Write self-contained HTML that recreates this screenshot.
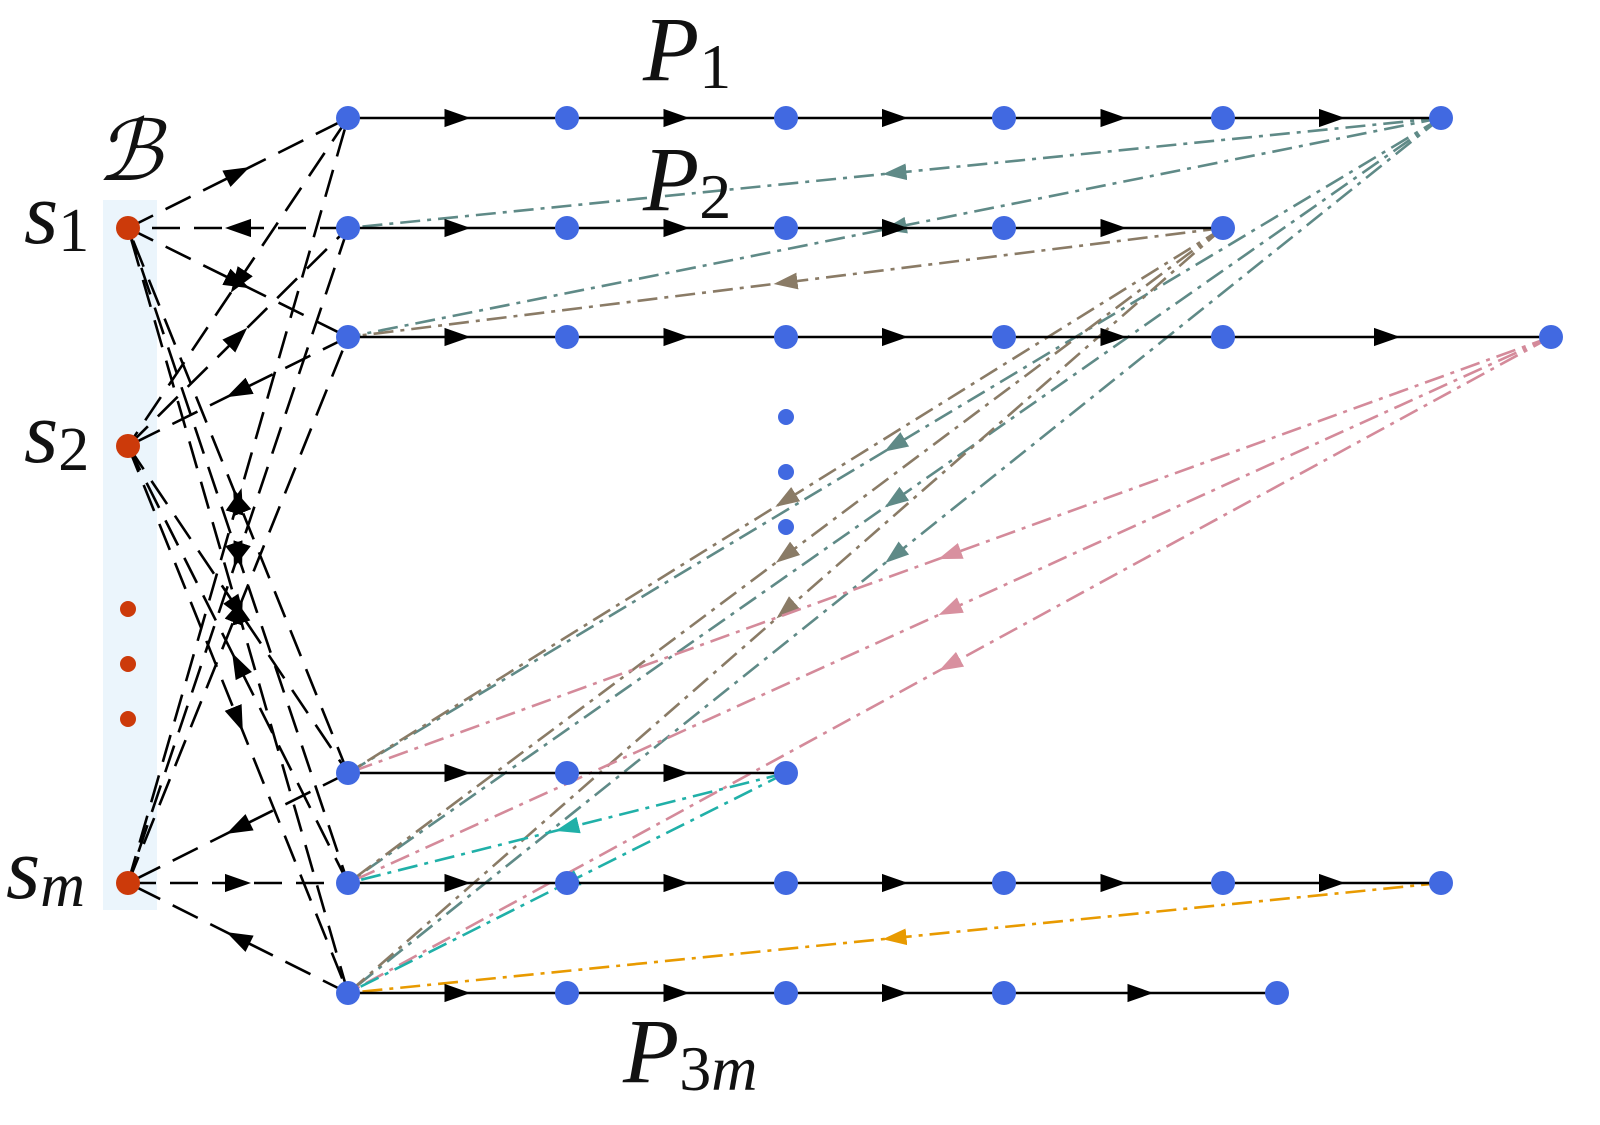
<!DOCTYPE html>
<html><head><meta charset="utf-8">
<style>html,body{margin:0;padding:0;background:#fff;}svg{display:block}
text{font-family:"Liberation Serif",serif;font-style:italic;fill:#111}</style></head>
<body>
<svg id="s" width="1600" height="1125" viewBox="0 0 1600 1125" xmlns="http://www.w3.org/2000/svg">
<defs>
<marker id="ak" viewBox="0 0 10 10" refX="5" refY="5" markerWidth="26" markerHeight="26" markerUnits="userSpaceOnUse" orient="auto"><path d="M0,1.5 L10,5 L0,8.5 z" fill="#000"/></marker>
<marker id="at" viewBox="0 0 10 10" refX="5" refY="5" markerWidth="24" markerHeight="24" markerUnits="userSpaceOnUse" orient="auto"><path d="M0,1.5 L10,5 L0,8.5 z" fill="#5f8a87"/></marker>
<marker id="ab" viewBox="0 0 10 10" refX="5" refY="5" markerWidth="24" markerHeight="24" markerUnits="userSpaceOnUse" orient="auto"><path d="M0,1.5 L10,5 L0,8.5 z" fill="#8a7b66"/></marker>
<marker id="ap2" viewBox="0 0 10 10" refX="5" refY="5" markerWidth="24" markerHeight="24" markerUnits="userSpaceOnUse" orient="auto"><path d="M0,1.5 L10,5 L0,8.5 z" fill="#d8909f"/></marker>
<marker id="ac" viewBox="0 0 10 10" refX="5" refY="5" markerWidth="24" markerHeight="24" markerUnits="userSpaceOnUse" orient="auto"><path d="M0,1.5 L10,5 L0,8.5 z" fill="#20b0a8"/></marker>
<marker id="ao" viewBox="0 0 10 10" refX="5" refY="5" markerWidth="24" markerHeight="24" markerUnits="userSpaceOnUse" orient="auto"><path d="M0,1.5 L10,5 L0,8.5 z" fill="#e89a00"/></marker>
</defs>
<rect x="103" y="200" width="54" height="710" fill="#ebf5fc"/>
<g id="g"></g>
<text x="643" y="80" font-size="92">P<tspan font-size="64" font-style="normal" dy="8">1</tspan></text>
<text x="643" y="210" font-size="92">P<tspan font-size="64" font-style="normal" dy="8">2</tspan></text>
<text x="623" y="1082" font-size="92">P<tspan font-size="64" dy="8"><tspan font-style="normal">3</tspan>m</tspan></text>
<text x="96" y="180" font-size="84">ℬ</text>
<text x="24" y="243" font-size="88">s<tspan font-size="62" font-style="normal" dy="8">1</tspan></text>
<text x="24" y="462" font-size="88">s<tspan font-size="62" font-style="normal" dy="8">2</tspan></text>
<text x="6" y="898" font-size="88">s<tspan font-size="62" dy="8">m</tspan></text>
</svg>
<script>
var g=document.getElementById('g'),NS='http://www.w3.org/2000/svg';
function el(t,a){var e=document.createElementNS(NS,t);for(var k in a)e.setAttribute(k,a[k]);g.appendChild(e);return e;}
function line(x1,y1,x2,y2,col,dash,mk,w){var mx=(x1+x2)/2,my=(y1+y2)/2;
 el('polyline',{points:x1+','+y1+' '+mx+','+my+' '+x2+','+y2,fill:'none',stroke:col,'stroke-width':w||2.6,'stroke-dasharray':dash||'none','marker-mid':'url(#'+mk+')'});}
var X=[348,567,786,1004,1223,1441];
var rows=[[118,[0,1,2,3,4,5]],[228,[0,1,2,3,4]],[337,[0,1,2,3,4],1551],[773,[0,1,2]],[883,[0,1,2,3,4,5]],[993,[0,1,2,3],1277]];
var L=[118,228,337,773,883,993];
var S=[228,446,883];
S.forEach(function(sy,i){L.forEach(function(ly,j){
 var out=(i+j)%2==0;
 if(out)line(128,sy,348,ly,'#000','28 14','ak',2.6);else line(348,ly,128,sy,'#000','28 14','ak',2.6);});});
var DD='20 7 4 7';
function back(x,y,col,mk,targets){targets.forEach(function(ty){line(x,y,348,ty,col,DD,mk);});}
back(1441,118,'#5f8a87','at',[228,337,773,883,993]);
back(1223,228,'#8a7b66','ab',[337,773,883,993]);
back(1551,337,'#d48a9a','ap2',[773,883,993]);
back(786,773,'#20b0a8','ac',[883,993]);
back(1441,883,'#e89a00','ao',[993]);
rows.forEach(function(r){var y=r[0],xs=r[1].map(function(i){return X[i]});if(r[2])xs.push(r[2]);
 for(var i=0;i<xs.length-1;i++)line(xs[i],y,xs[i+1],y,'#000','none','ak',2.6);
 xs.forEach(function(x){el('circle',{cx:x,cy:y,r:12,fill:'#4169e1'});});});
[417,472,527].forEach(function(y){el('circle',{cx:786,cy:y,r:8,fill:'#4169e1'});});
S.forEach(function(y){el('circle',{cx:128,cy:y,r:12,fill:'#cc3a0a'});});
[609,664,719].forEach(function(y){el('circle',{cx:128,cy:y,r:8,fill:'#cc3a0a'});});
</script>
</body></html>
